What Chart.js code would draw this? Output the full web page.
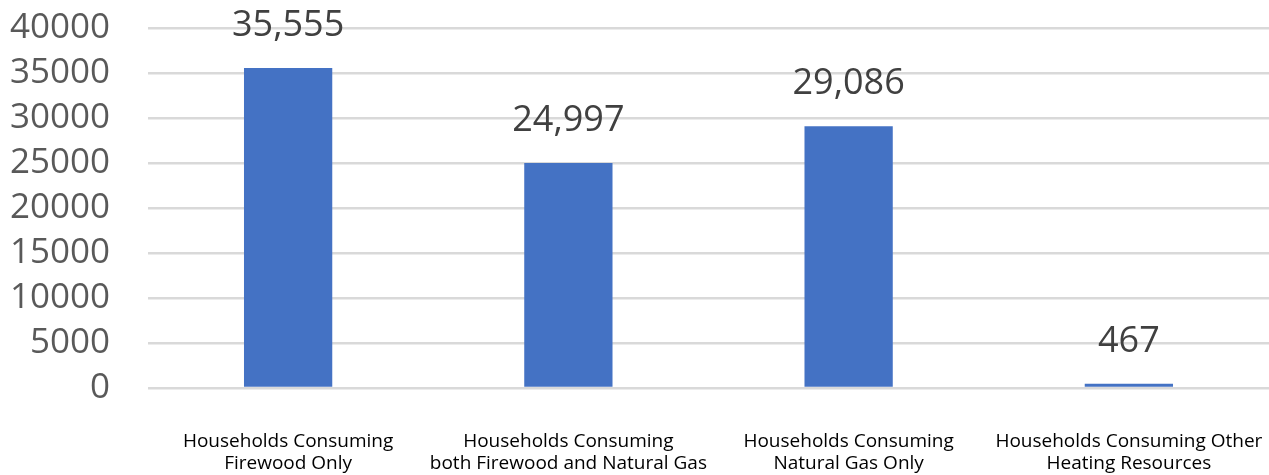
<!DOCTYPE html>
<html lang="en">
  <head>
    <meta charset="UTF-8" />
    <title>Household heating consumption</title>
    <script src="https://cdn.jsdelivr.net/npm/chart.js"></script>
    <style>
      html, body { margin: 0; padding: 0; background: #fff; }
      #wrap { width: 1269px; height: 475px; }
    </style>
  </head>
  <body>
    <div id="wrap"><canvas id="chart"></canvas></div>
    <script>
      const categories = [
        ["Households Consuming", "Firewood Only"],
        ["Households Consuming", "both Firewood and Natural Gas"],
        ["Households Consuming", "Natural Gas Only"],
        ["Households Consuming Other", "Heating Resources"],
      ];
      const households = [35555, 24997, 29086, 467];
      const yMax = 40000;
      const yStep = 5000;

      const FONT = "'Open Sans', sans-serif";

      // value labels above each bar
      const valueLabels = {
        id: "valueLabels",
        afterDatasetsDraw(chart) {
          const ctx = chart.ctx;
          const meta = chart.getDatasetMeta(0);
          ctx.save();
          ctx.font = "36px " + FONT;
          ctx.fillStyle = "#404040";
          ctx.textAlign = "center";
          ctx.textBaseline = "middle";
          meta.data.forEach((bar, i) => {
            ctx.fillText(households[i].toLocaleString("en-US"), bar.x, bar.y - 42);
          });
          ctx.restore();
        },
      };

      new Chart(document.getElementById("chart"), {
        type: "bar",
        data: {
          labels: categories,
          datasets: [
            {
              data: households,
              backgroundColor: "#4472C4",
              barPercentage: 0.315,
              categoryPercentage: 1,
            },
          ],
        },
        options: {
          responsive: true,
          maintainAspectRatio: false,
          animation: false,
          layout: { padding: { top: 28, right: 0, left: 0, bottom: 0 } },
          plugins: {
            legend: { display: false },
            tooltip: { enabled: false },
          },
          scales: {
            x: {
              grid: { display: false, drawTicks: false },
              border: { display: false },
              ticks: {
                padding: 42,
                color: "#000",
                maxRotation: 0,
                autoSkip: false,
                font: { family: FONT, size: 19, lineHeight: 1.17 },
              },
              afterFit(scale) {
                scale.height = 87;
                scale.paddingLeft = 0;
                scale.paddingRight = 0;
              },
            },
            y: {
              min: 0,
              max: yMax,
              grid: { color: "#d9d9d9", lineWidth: 2.5, drawTicks: false },
              border: { display: false },
              ticks: {
                stepSize: yStep,
                autoSkip: false,
                padding: 38,
                color: "#595959",
                font: { family: FONT, size: 35 },
                callback: (v) => String(v),
              },
              afterFit(scale) {
                scale.width = 148;
                scale.paddingTop = 0;
                scale.paddingBottom = 0;
              },
            },
          },
        },
        plugins: [valueLabels],
      });
    </script>
  </body>
</html>
